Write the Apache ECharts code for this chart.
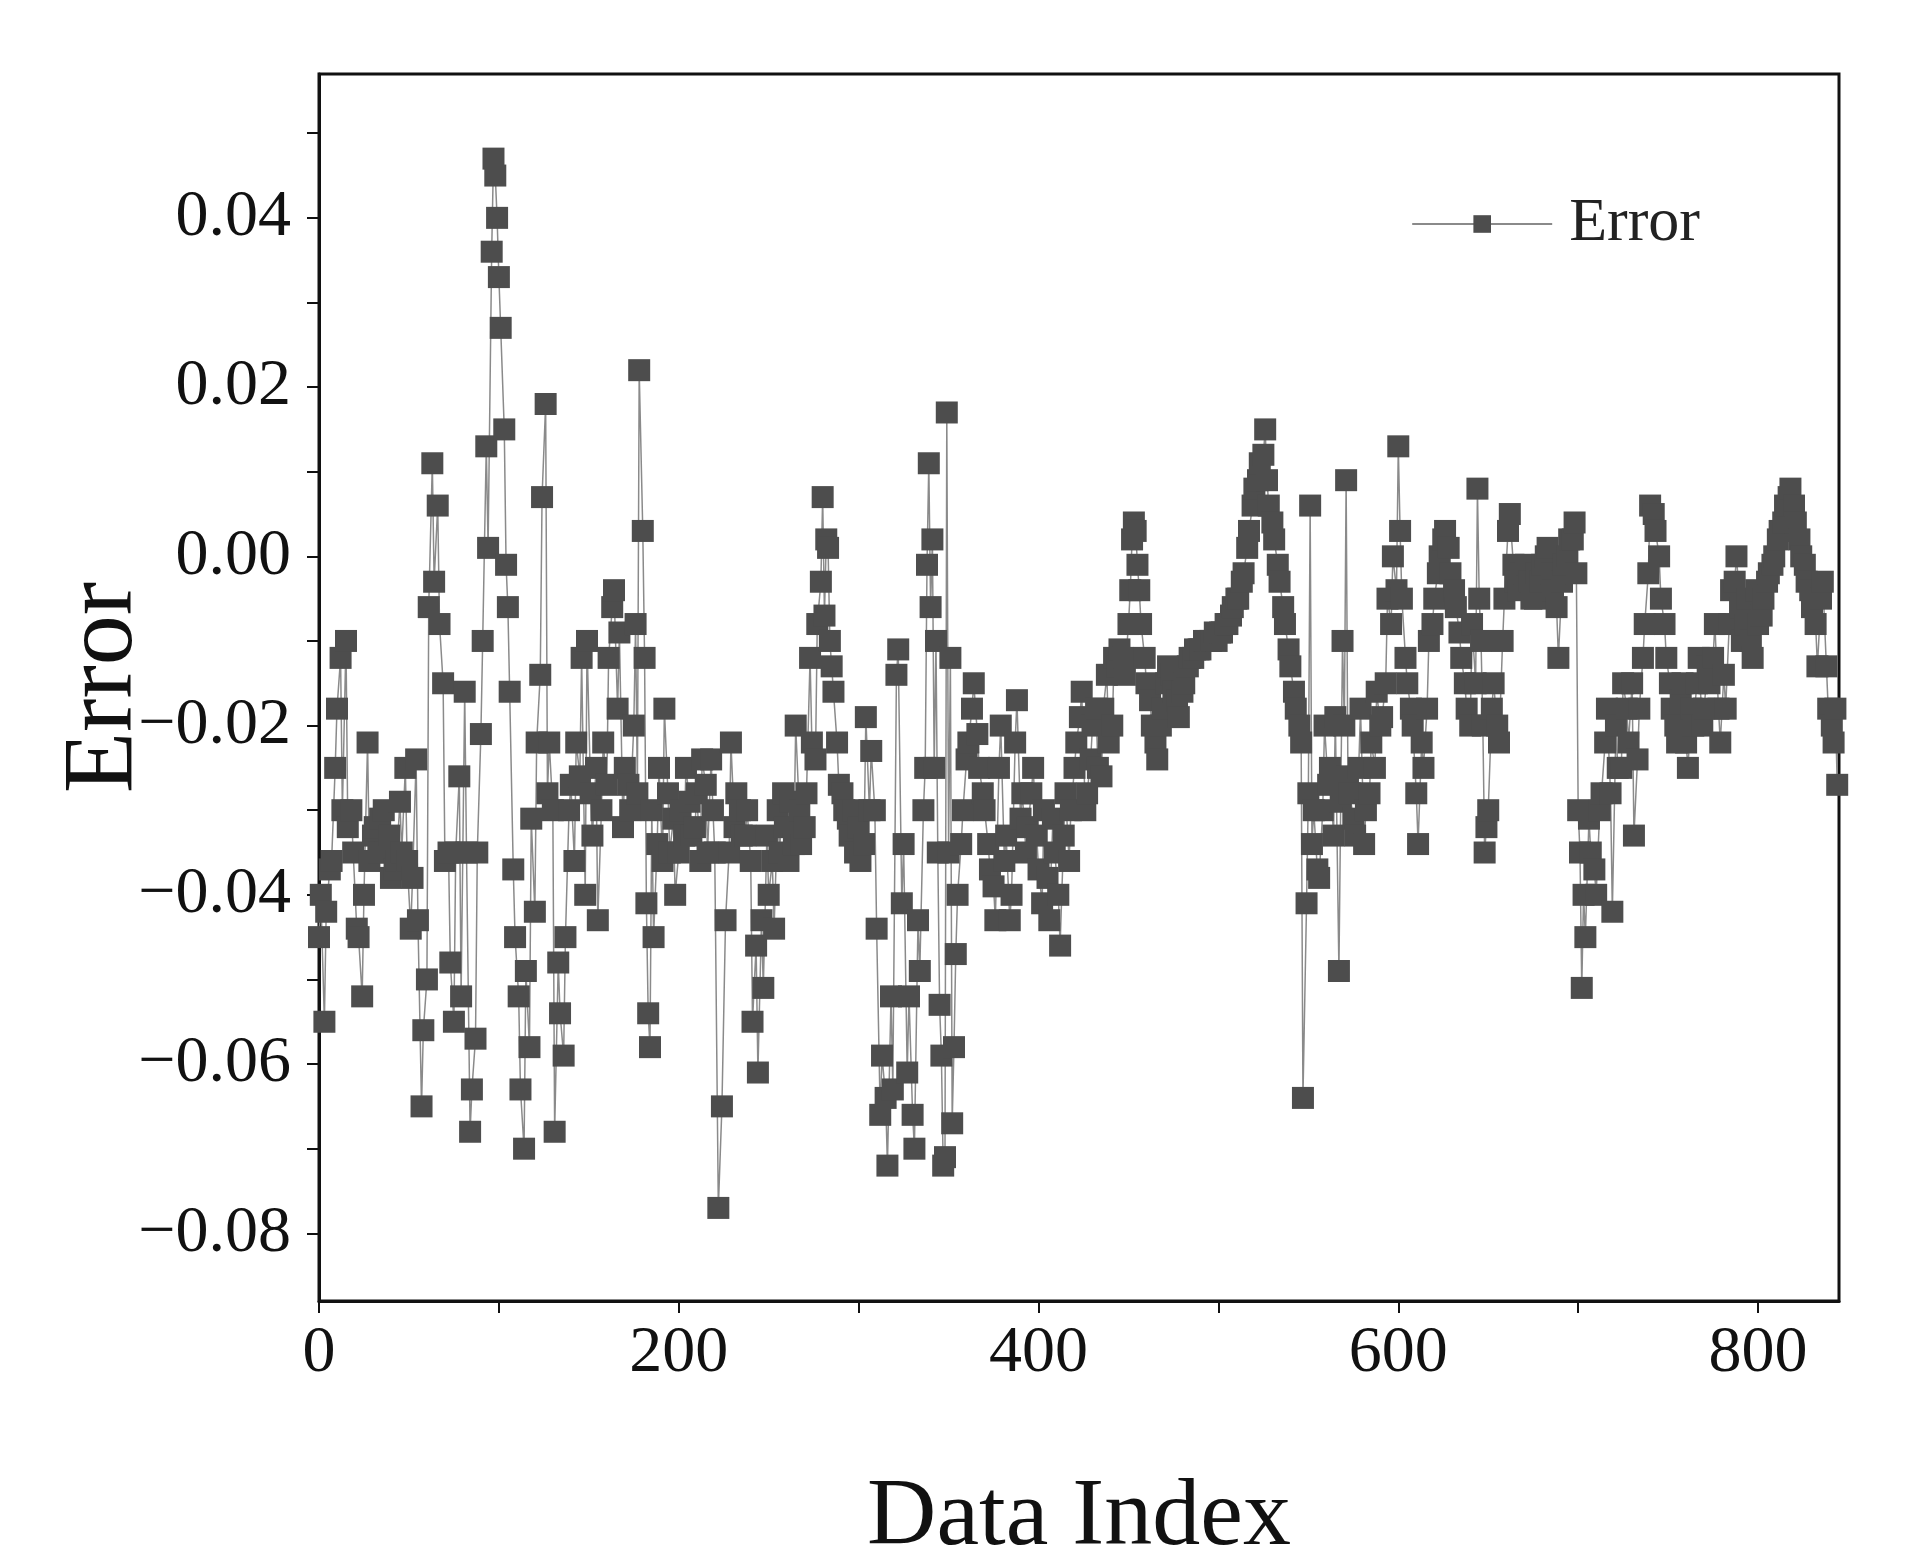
<!DOCTYPE html>
<html>
<head>
<meta charset="utf-8">
<script src="https://cdn.jsdelivr.net/npm/echarts@6/dist/echarts.min.js"></script>
<style>html,body{margin:0;background:#fff}#chart{width:1920px;height:1552px}</style>
</head>
<body>
<div id="chart"></div>
<script>
// data index values and their errors
const dataIndex = [0,3,6,9,12,15,18,21,24,27,30,33,36,39,42,45,48,51,54,57,60,63,66,69,72,75,78,81,84,87,90,93,96,97,99,101,103,105,108,111,114,117,120,123,126,128,131,134,137,140,143,146,149,152,155,158,161,164,167,170,173,176,178,180,182,184,186,189,192,195,198,
  201,204,207,210,213,216,219,222,224,226,229,232,235,238,241,244,247,250,253,256,259,262,265,268,271,274,277,280,282,284,286,289,292,295,298,301,304,307,310,313,316,319,322,325,328,331,334,337,339,341,343,345,347,349,351,353,355,358,361,364,367,370,373,376,379,382,385,388,391,394,397,
  400,403,406,409,412,415,418,421,424,427,430,433,436,439,442,445,448,451,453,455,457,460,463,466,469,472,475,478,481,484,487,490,493,496,499,502,505,508,511,514,517,520,523,526,528,531,534,537,540,543,546,547,549,551,553,556,559,562,565,567,569,571,573,576,579,582,585,588,591,594,597,
  600,602,605,608,611,614,617,620,623,626,629,632,635,638,641,644,646,648,650,653,656,659,662,665,668,671,674,677,680,683,686,689,692,695,698,700,702,704,707,710,713,716,719,722,725,728,731,734,737,740,743,746,749,752,755,758,761,764,767,770,773,776,779,782,785,788,791,794,797,
  800,803,806,809,812,815,818,821,824,827,830,833,836,839,842,844];
const errorValues = [-0.045,-0.055,-0.037,-0.025,-0.012,-0.010,-0.030,-0.044,-0.052,-0.022,-0.033,-0.035,-0.030,-0.033,-0.037,-0.029,-0.025,-0.044,-0.024,-0.065,-0.050,0.011,0.006,-0.015,-0.035,-0.055,-0.026,-0.016,-0.068,-0.057,-0.021,0.013,0.036,0.047,0.040,0.027,0.015,-0.006,-0.037,-0.052,-0.070,-0.058,-0.042,-0.014,0.018,-0.022,-0.068,-0.054,-0.045,-0.027,-0.022,-0.012,-0.010,-0.033,-0.043,-0.022,-0.012,-0.004,-0.009,-0.025,-0.030,-0.008,0.022,0.003,-0.041,-0.058,-0.045,-0.025,-0.018,-0.035,-0.040,
  -0.030,-0.025,-0.033,-0.028,-0.024,-0.035,-0.030,-0.077,-0.065,-0.043,-0.022,-0.028,-0.033,-0.030,-0.055,-0.061,-0.051,-0.040,-0.044,-0.035,-0.032,-0.029,-0.020,-0.034,-0.028,-0.022,-0.008,0.007,0.002,-0.010,-0.016,-0.027,-0.030,-0.033,-0.035,-0.036,-0.019,-0.023,-0.044,-0.059,-0.072,-0.063,-0.011,-0.034,-0.052,-0.070,-0.049,-0.025,0.011,0.002,-0.010,-0.053,-0.072,0.017,-0.012,-0.058,-0.040,-0.030,-0.022,-0.015,-0.025,-0.030,-0.037,-0.043,-0.020,-0.033,-0.040,-0.017,-0.028,-0.032,-0.025,
  -0.037,-0.030,-0.043,-0.035,-0.046,-0.028,-0.030,-0.022,-0.016,-0.028,-0.020,-0.025,-0.018,-0.022,-0.012,-0.011,-0.014,-0.004,0.004,-0.001,-0.008,-0.015,-0.020,-0.024,-0.018,-0.013,-0.016,-0.019,-0.015,-0.012,-0.011,-0.011,-0.010,-0.010,-0.010,-0.009,-0.008,-0.006,-0.005,-0.002,0.003,0.008,0.011,0.015,0.006,0.002,-0.003,-0.008,-0.013,-0.018,-0.022,-0.064,-0.041,0.006,-0.030,-0.038,-0.020,-0.025,-0.019,-0.049,-0.010,0.009,-0.028,-0.033,-0.018,-0.030,-0.022,-0.016,-0.019,-0.005,0.000,
  0.013,-0.005,-0.015,-0.020,-0.034,-0.025,-0.010,-0.005,0.000,0.003,-0.002,-0.006,-0.012,-0.018,-0.008,0.008,-0.010,-0.035,-0.030,-0.015,-0.022,-0.005,0.005,-0.003,-0.002,-0.001,-0.005,-0.002,-0.001,0.001,-0.004,-0.012,-0.001,0.002,0.004,-0.030,-0.051,-0.045,-0.035,-0.040,-0.028,-0.018,-0.042,-0.025,-0.015,-0.022,-0.033,-0.018,-0.008,0.006,0.003,-0.005,-0.012,-0.018,-0.022,-0.015,-0.025,-0.020,-0.012,-0.018,-0.015,-0.008,-0.022,-0.018,-0.004,0.000,-0.010,-0.005,-0.012,
  -0.008,-0.005,-0.002,0.000,0.003,0.006,0.008,0.004,0.000,-0.003,-0.006,-0.013,-0.003,-0.018,-0.022,-0.027];
// in-between samples that fill out the dense bands
const dataIndex2 = [1,4,7,10,13,16,19,22,25,28,31,34,37,40,43,46,49,52,55,58,61,64,67,70,73,76,79,82,85,88,91,94,98,100,104,106,109,112,115,118,121,124,127,130,133,136,139,142,145,148,151,154,157,160,163,166,169,172,175,177,181,183,185,188,191,194,197,
  200,203,206,209,212,215,218,220,228,231,234,237,240,243,246,249,252,255,258,261,264,267,270,273,276,279,281,283,285,288,291,294,297,300,303,306,309,312,315,318,321,324,327,330,333,336,338,340,342,344,346,348,350,352,354,357,360,363,366,369,372,375,378,381,384,387,390,393,396,399,
  402,405,408,411,414,417,420,423,426,429,432,435,438,441,444,447,450,452,454,456,459,462,465,468,471,474,477,480,483,486,489,492,495,498,501,504,507,510,513,516,519,522,525,527,530,533,536,539,542,545,550,552,555,558,561,564,568,570,572,575,578,581,584,587,590,593,596,599,
  601,604,607,610,613,616,619,622,625,628,631,634,637,640,643,645,647,649,652,655,658,661,664,667,670,673,676,679,682,685,688,691,694,697,699,701,703,706,709,712,715,718,721,724,727,730,733,736,739,742,745,748,751,754,757,760,763,766,769,772,775,778,781,784,787,790,793,796,799,
  802,805,808,811,814,817,820,823,826,829,832,835,838,841,843];
const errorValues2 = [-0.040,-0.042,-0.036,-0.018,-0.030,-0.032,-0.035,-0.045,-0.040,-0.036,-0.032,-0.031,-0.035,-0.038,-0.036,-0.035,-0.036,-0.038,-0.043,-0.056,-0.006,-0.003,-0.008,-0.036,-0.048,-0.035,-0.052,-0.035,-0.063,-0.035,-0.010,0.001,0.045,0.033,-0.001,-0.016,-0.045,-0.063,-0.049,-0.031,-0.022,0.007,-0.028,-0.030,-0.048,-0.059,-0.030,-0.036,-0.026,-0.040,-0.028,-0.025,-0.030,-0.027,-0.006,-0.018,-0.032,-0.027,-0.020,-0.028,-0.012,-0.054,-0.030,-0.034,-0.036,-0.028,-0.031,
  -0.035,-0.033,-0.029,-0.032,-0.036,-0.027,-0.024,-0.035,-0.035,-0.032,-0.030,-0.033,-0.036,-0.046,-0.043,-0.033,-0.036,-0.030,-0.028,-0.036,-0.034,-0.030,-0.032,-0.012,-0.024,-0.003,-0.007,0.001,-0.013,-0.022,-0.028,-0.031,-0.030,-0.032,-0.034,-0.030,-0.030,-0.066,-0.064,-0.052,-0.014,-0.041,-0.061,-0.066,-0.043,-0.030,-0.001,-0.006,-0.025,-0.035,-0.059,-0.071,-0.035,-0.067,-0.047,-0.034,-0.024,-0.018,-0.021,-0.028,-0.034,-0.039,-0.025,-0.036,-0.043,-0.022,-0.031,-0.035,-0.028,-0.033,
  -0.041,-0.038,-0.031,-0.040,-0.033,-0.036,-0.025,-0.019,-0.030,-0.024,-0.018,-0.026,-0.014,-0.020,-0.013,-0.012,-0.008,0.002,0.003,-0.004,-0.012,-0.017,-0.022,-0.020,-0.015,-0.014,-0.017,-0.016,-0.013,-0.012,-0.011,-0.010,-0.010,-0.009,-0.009,-0.008,-0.007,-0.005,-0.003,0.001,0.006,0.009,0.012,0.009,0.004,-0.001,-0.006,-0.011,-0.016,-0.020,-0.028,-0.034,-0.037,-0.030,-0.027,-0.033,-0.029,-0.020,-0.026,-0.031,-0.025,-0.034,-0.028,-0.025,-0.020,-0.015,-0.008,-0.004,
  0.003,-0.012,-0.018,-0.028,-0.022,-0.018,-0.008,-0.002,0.002,0.001,-0.004,-0.009,-0.015,-0.020,-0.015,-0.005,-0.020,-0.032,-0.018,-0.020,-0.010,0.003,-0.001,-0.004,-0.002,-0.003,-0.005,-0.003,0.000,-0.002,-0.006,-0.003,0.000,0.002,-0.002,-0.035,-0.040,-0.031,-0.037,-0.030,-0.022,-0.028,-0.020,-0.025,-0.018,-0.015,-0.024,-0.012,-0.002,0.005,0.000,-0.008,-0.015,-0.020,-0.017,-0.022,-0.018,-0.015,-0.020,-0.013,-0.012,-0.018,-0.014,-0.008,-0.003,-0.006,-0.008,-0.010,-0.004,
  -0.007,-0.003,-0.001,0.002,0.004,0.007,0.006,0.002,-0.001,-0.004,-0.008,-0.005,-0.013,-0.020,-0.018];
const yLabels = [-0.08,-0.06,-0.04,-0.02,0,0.02,0.04];
const yMinor = [-0.07,-0.05,-0.03,-0.01,0.01,0.03,0.05];
const xLabels = [0,200,400,600,800];
const xMinor = [100,300,500,700];

const points = dataIndex.map((x, i) => [x, errorValues[i]])
  .concat(dataIndex2.map((x, i) => [x, errorValues2[i]]))
  .sort((a, b) => a[0] - b[0]);
const font = 'Liberation Serif';

const chart = echarts.init(document.getElementById('chart'));
chart.setOption({
  animation: false,
  backgroundColor: '#fff',
  grid: { left: 319, top: 74, width: 1520, height: 1227, show: true, borderColor: '#111', borderWidth: 3, outerBoundsMode: 'none' },
  legend: {
    right: 215, top: 188, itemWidth: 140, itemHeight: 22, itemGap: 18,
    textStyle: { fontFamily: font, fontSize: 62, color: '#222', padding: [0, 0, 0, 12] },
    data: ['Error']
  },
  xAxis: {
    type: 'value', min: 0, max: 845,
    name: 'Data Index', nameLocation: 'middle', nameGap: 170, nameMoveOverlap: false,
    nameTextStyle: { fontFamily: font, fontSize: 96, color: '#111' },
    axisLine: { onZero: false, lineStyle: { color: '#111', width: 3 } },
    axisTick: { customValues: xLabels.concat(xMinor), length: 12, lineStyle: { color: '#111', width: 2 } },
    axisLabel: { customValues: xLabels, margin: 20, fontFamily: font, fontSize: 66, color: '#111' },
    splitLine: { show: false }
  },
  yAxis: {
    type: 'value', min: -0.088, max: 0.057,
    name: 'Error', nameLocation: 'middle', nameGap: 164, nameMoveOverlap: false,
    nameTextStyle: { fontFamily: font, fontSize: 100, color: '#111' },
    axisLine: { lineStyle: { color: '#111', width: 3 } },
    axisTick: { customValues: yLabels.concat(yMinor), length: 12, lineStyle: { color: '#111', width: 2 } },
    axisLabel: { customValues: yLabels, margin: 28, fontFamily: font, fontSize: 66, color: '#111',
      formatter: v => v.toFixed(2).replace('-', '\u2212') },
    splitLine: { show: false }
  },
  series: [{
    name: 'Error', type: 'line', data: points,
    symbol: 'rect', symbolSize: 22,
    itemStyle: { color: '#4d4d4d' },
    lineStyle: { color: '#8a8a8a', width: 1.5 }
  }]
});
</script>
</body>
</html>
